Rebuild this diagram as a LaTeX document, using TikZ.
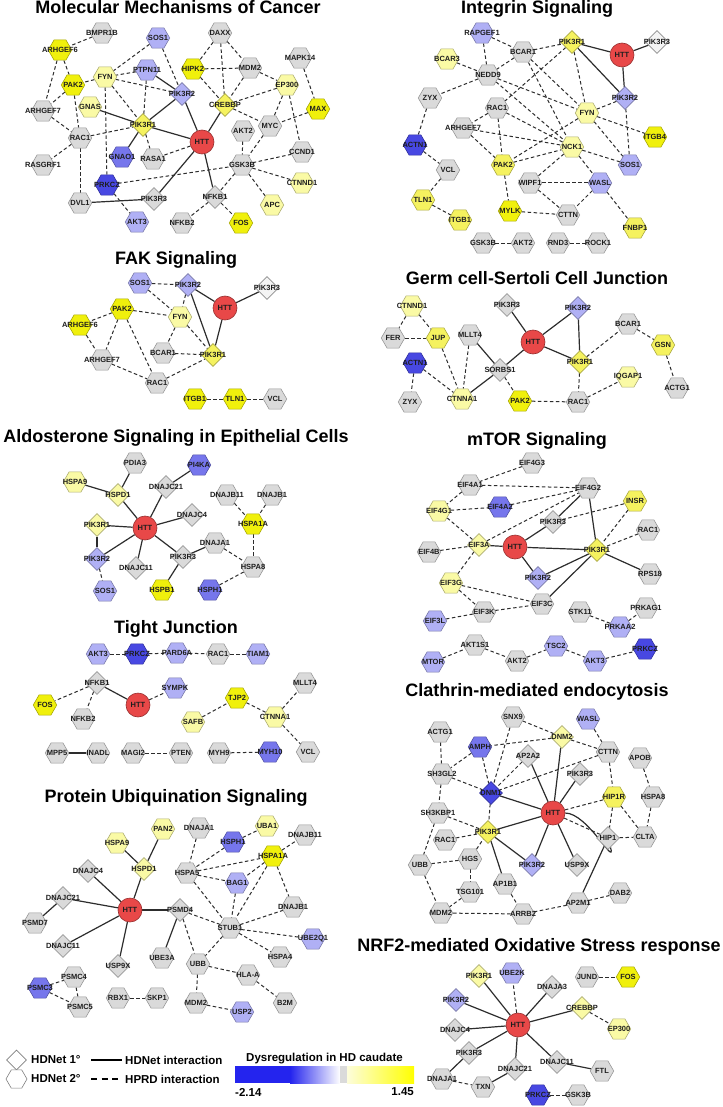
\documentclass[tikz,border=0pt]{standalone}
\usepackage{fontspec}
\setmainfont{Liberation Sans}
\usepackage{xcolor}
\usepackage{tikz}
\usetikzlibrary{shapes.geometric}
\usetikzlibrary{backgrounds}

\definecolor{hdGray}{RGB}{218,218,218}
\definecolor{hdWhite}{RGB}{244,244,244}
\definecolor{hdYa}{RGB}{250,250,165}
\definecolor{hdYb}{RGB}{245,242,95}
\definecolor{hdYc}{RGB}{240,240,12}
\definecolor{hdBa}{RGB}{176,176,245}
\definecolor{hdBb}{RGB}{118,118,236}
\definecolor{hdBc}{RGB}{72,72,226}
\definecolor{hdRed}{RGB}{232,72,72}
\definecolor{hdEdge}{RGB}{45,45,45}
\definecolor{hdText}{RGB}{30,30,30}
\definecolor{hdBar}{RGB}{36,36,238}
\definecolor{hdBarY}{RGB}{255,255,0}

\tikzset{
	hexn/.style={regular polygon, regular polygon sides=6, inner sep=0pt, minimum size=23.5pt, line width=0.6pt},
	dian/.style={diamond, inner sep=0pt, minimum width=23pt, minimum height=23pt, line width=0.6pt},
	httn/.style={circle, fill=hdRed, draw=hdRed!65!black, inner sep=0pt, minimum size=24pt, line width=0.6pt},
	cg/.style={fill=hdGray, draw=hdGray!70!black},
	cw/.style={fill=hdWhite, draw=hdGray!65!black},
	cya/.style={fill=hdYa, draw=hdYa!70!black},
	cyb/.style={fill=hdYb, draw=hdYb!70!black},
	cyc/.style={fill=hdYc, draw=hdYc!70!black},
	cba/.style={fill=hdBa, draw=hdBa!70!black},
	cbb/.style={fill=hdBb, draw=hdBb!70!black},
	cbc/.style={fill=hdBc, draw=hdBc!70!black},
	every label/.style={font=\fontsize{7.5}{8}\selectfont\bfseries, text=hdText, inner sep=0pt},
	hd/.style={draw=hdEdge, line width=1.2pt},
	hp/.style={draw=hdEdge, line width=1pt, dash pattern=on 3.5pt off 2.5pt},
	ttl/.style={font=\fontsize{18}{18}\selectfont\bfseries, anchor=base, inner sep=0pt},
	lgd/.style={font=\fontsize{11.5}{12}\selectfont\bfseries, inner sep=0pt}
}

\begin{document}
\begin{tikzpicture}[x=1pt,y=-1pt]
			\useasboundingbox (0,0) rectangle (722,1107);

			%% titles
			\node[ttl] (mcTitle) at (178,14) {Molecular Mechanisms of Cancer};
			\node[ttl] (igTitle) at (537,14) {Integrin Signaling};
			\node[ttl] (fkTitle) at (176,264) {FAK Signaling};
			\node[ttl] (gsTitle) at (537,284) {Germ cell-Sertoli Cell Junction};
			\node[ttl] (alTitle) at (176,442) {Aldosterone Signaling in Epithelial Cells};
			\node[ttl] (mtTitle) at (537,445) {mTOR Signaling};
			\node[ttl] (tjTitle) at (176,633) {Tight Junction};
			\node[ttl] (clTitle) at (537,696) {Clathrin-mediated endocytosis};
			\node[ttl] (puTitle) at (176,802) {Protein Ubiquination Signaling};
			\node[ttl] (nrTitle) at (539,951) {NRF2-mediated Oxidative Stress response};

			%% Molecular Mechanisms of Cancer
			\node[hexn,cg,label=center:BMPR1B] (mcBMPR1B) at (102,33) {};
			\node[hexn,cyc,label=center:ARHGEF6] (mcARHGEF6) at (60,50) {};
			\node[hexn,cba,label=center:SOS1] (mcSOS1) at (158,38) {};
			\node[hexn,cg,label=center:DAXX] (mcDAXX) at (220,33) {};
			\node[hexn,cg,label=center:MAPK14] (mcMAPK14) at (300,58) {};
			\node[hexn,cba,label=center:PTPN11] (mcPTPN11) at (147,70) {};
			\node[hexn,cya,label=center:FYN] (mcFYN) at (105,77) {};
			\node[hexn,cyc,label=center:HIPK2] (mcHIPK2) at (193,69) {};
			\node[hexn,cg,label=center:MDM2] (mcMDM2) at (250,68) {};
			\node[hexn,cya,label=center:EP300] (mcEP300) at (287,85) {};
			\node[hexn,cyc,label=center:PAK2] (mcPAK2) at (73,85) {};
			\node[dian,cba,label=center:PIK3R2] (mcPIK3R2) at (182,94) {};
			\node[dian,cyb,label=center:CREBBP] (mcCREBBP) at (225,105) {};
			\node[hexn,cyc,label=center:MAX] (mcMAX) at (318,109) {};
			\node[hexn,cya,label=center:GNAS] (mcGNAS) at (90,107) {};
			\node[hexn,cg,label=center:ARHGEF7] (mcARHGEF7) at (43,111) {};
			\node[dian,cyb,label=center:PIK3R1] (mcPIK3R1) at (143,125) {};
			\node[hexn,cg,label=center:MYC] (mcMYC) at (270,126) {};
			\node[hexn,cg,label=center:AKT2] (mcAKT2) at (243,131) {};
			\node[hexn,cg,label=center:RAC1] (mcRAC1) at (80,138) {};
			\node[httn,label=center:HTT] (mcHTT) at (202,142) {};
			\node[hexn,cg,label=center:CCND1] (mcCCND1) at (302,152) {};
			\node[hexn,cbb,label=center:GNAO1] (mcGNAO1) at (122,157) {};
			\node[hexn,cg,label=center:RASA1] (mcRASA1) at (153,159) {};
			\node[hexn,cg,label=center:RASGRF1] (mcRASGRF1) at (43,165) {};
			\node[hexn,cg,label=center:GSK3B] (mcGSK3B) at (242,165) {};
			\node[hexn,cya,label=center:CTNND1] (mcCTNND1) at (302,183) {};
			\node[hexn,cbc,label=center:PRKCZ] (mcPRKCZ) at (107,185) {};
			\node[dian,cg,label=center:PIK3R3] (mcPIK3R3) at (154,199) {};
			\node[dian,cg,label=center:NFKB1] (mcNFKB1) at (215,197) {};
			\node[hexn,cya,label=center:APC] (mcAPC) at (272,205) {};
			\node[hexn,cg,label=center:DVL1] (mcDVL1) at (80,203) {};
			\node[hexn,cba,label=center:AKT3] (mcAKT3) at (137,222) {};
			\node[hexn,cg,label=center:NFKB2] (mcNFKB2) at (182,223) {};
			\node[hexn,cyc,label=center:FOS] (mcFOS) at (241,223) {};

			%% Integrin Signaling
			\node[hexn,cba,label=center:RAPGEF1] (igRAPGEF1) at (482,33) {};
			\node[hexn,cg,label=center:BCAR1] (igBCAR1) at (523,52) {};
			\node[dian,cyb,label=center:PIK3R1] (igPIK3R1) at (572,42) {};
			\node[httn,label=center:HTT] (igHTT) at (622,55) {};
			\node[dian,cw,label=center:PIK3R3] (igPIK3R3) at (657,42) {};
			\node[hexn,cya,label=center:BCAR3] (igBCAR3) at (447,59) {};
			\node[hexn,cg,label=center:NEDD9] (igNEDD9) at (488,75) {};
			\node[hexn,cg,label=center:ZYX] (igZYX) at (430,98) {};
			\node[dian,cba,label=center:PIK3R2] (igPIK3R2) at (625,98) {};
			\node[hexn,cg,label=center:RAC1] (igRAC1) at (497,108) {};
			\node[hexn,cya,label=center:FYN] (igFYN) at (587,113) {};
			\node[hexn,cg,label=center:ARHGEF7] (igARHGEF7) at (463,128) {};
			\node[hexn,cyc,label=center:ITGB4] (igITGB4) at (655,137) {};
			\node[hexn,cbc,label=center:ACTN1] (igACTN1) at (415,145) {};
			\node[hexn,cya,label=center:NCK1] (igNCK1) at (572,147) {};
			\node[hexn,cyb,label=center:PAK2] (igPAK2) at (503,165) {};
			\node[hexn,cba,label=center:SOS1] (igSOS1) at (630,165) {};
			\node[hexn,cg,label=center:VCL] (igVCL) at (448,170) {};
			\node[hexn,cg,label=center:WIPF1] (igWIPF1) at (530,183) {};
			\node[hexn,cba,label=center:WASL] (igWASL) at (600,183) {};
			\node[hexn,cyb,label=center:TLN1] (igTLN1) at (423,200) {};
			\node[hexn,cyc,label=center:MYLK] (igMYLK) at (510,211) {};
			\node[hexn,cg,label=center:CTTN] (igCTTN) at (568,215) {};
			\node[hexn,cyb,label=center:ITGB1] (igITGB1) at (460,220) {};
			\node[hexn,cyb,label=center:FNBP1] (igFNBP1) at (635,228) {};
			\node[hexn,cg,label=center:GSK3B] (igGSK3B) at (483,243) {};
			\node[hexn,cg,label=center:AKT2] (igAKT2) at (523,243) {};
			\node[hexn,cg,label=center:RND3] (igRND3) at (558,243) {};
			\node[hexn,cg,label=center:ROCK1] (igROCK1) at (598,243) {};

			%% FAK Signaling
			\node[hexn,cba,label=center:SOS1] (fkSOS1) at (140,283) {};
			\node[dian,cba,label=center:PIK3R2] (fkPIK3R2) at (188,285) {};
			\node[dian,cw,label=center:PIK3R3] (fkPIK3R3) at (267,288) {};
			\node[httn,label=center:HTT] (fkHTT) at (225,308) {};
			\node[hexn,cyc,label=center:PAK2] (fkPAK2) at (122,309) {};
			\node[hexn,cya,label=center:FYN] (fkFYN) at (180,317) {};
			\node[hexn,cyc,label=center:ARHGEF6] (fkARHGEF6) at (80,325) {};
			\node[hexn,cg,label=center:BCAR1] (fkBCAR1) at (163,353) {};
			\node[dian,cyb,label=center:PIK3R1] (fkPIK3R1) at (213,355) {};
			\node[hexn,cg,label=center:ARHGEF7] (fkARHGEF7) at (102,360) {};
			\node[hexn,cg,label=center:RAC1] (fkRAC1) at (157,383) {};
			\node[hexn,cyc,label=center:ITGB1] (fkITGB1) at (195,399) {};
			\node[hexn,cyc,label=center:TLN1] (fkTLN1) at (235,399) {};
			\node[hexn,cg,label=center:VCL] (fkVCL) at (275,399) {};

			%% Germ cell-Sertoli Cell Junction
			\node[hexn,cya,label=center:CTNND1] (gsCTNND1) at (412,306) {};
			\node[dian,cg,label=center:PIK3R3] (gsPIK3R3) at (507,305) {};
			\node[dian,cba,label=center:PIK3R2] (gsPIK3R2) at (578,308) {};
			\node[hexn,cg,label=center:BCAR1] (gsBCAR1) at (628,324) {};
			\node[hexn,cg,label=center:FER] (gsFER) at (393,338) {};
			\node[hexn,cyb,label=center:JUP] (gsJUP) at (438,338) {};
			\node[hexn,cg,label=center:MLLT4] (gsMLLT4) at (470,335) {};
			\node[httn,label=center:HTT] (gsHTT) at (533,342) {};
			\node[hexn,cyb,label=center:GSN] (gsGSN) at (663,345) {};
			\node[hexn,cbc,label=center:ACTN1] (gsACTN1) at (415,363) {};
			\node[dian,cg,label=center:SORBS1] (gsSORBS1) at (500,370) {};
			\node[dian,cyb,label=center:PIK3R1] (gsPIK3R1) at (580,362) {};
			\node[hexn,cya,label=center:IQGAP1] (gsIQGAP1) at (628,377) {};
			\node[hexn,cg,label=center:ACTG1] (gsACTG1) at (677,388) {};
			\node[hexn,cg,label=center:ZYX] (gsZYX) at (410,402) {};
			\node[hexn,cya,label=center:CTNNA1] (gsCTNNA1) at (462,399) {};
			\node[hexn,cyc,label=center:PAK2] (gsPAK2) at (520,401) {};
			\node[hexn,cg,label=center:RAC1] (gsRAC1) at (578,402) {};

			%% Aldosterone Signaling in Epithelial Cells
			\node[hexn,cg,label=center:PDIA3] (alPDIA3) at (135,463) {};
			\node[hexn,cbb,label=center:PI4KA] (alPI4KA) at (199,465) {};
			\node[hexn,cya,label=center:HSPA9] (alHSPA9) at (75,482) {};
			\node[dian,cya,label=center:HSPD1] (alHSPD1) at (118,495) {};
			\node[dian,cg,label=center:DNAJC21] (alDNAJC21) at (166,487) {};
			\node[hexn,cg,label=center:DNAJB11] (alDNAJB11) at (227,495) {};
			\node[hexn,cg,label=center:DNAJB1] (alDNAJB1) at (272,495) {};
			\node[dian,cg,label=center:DNAJC4] (alDNAJC4) at (192,515) {};
			\node[dian,cya,label=center:PIK3R1] (alPIK3R1) at (97,525) {};
			\node[httn,label=center:HTT] (alHTT) at (145,528) {};
			\node[hexn,cyc,label=center:HSPA1A] (alHSPA1A) at (253,524) {};
			\node[hexn,cg,label=center:DNAJA1] (alDNAJA1) at (215,543) {};
			\node[dian,cba,label=center:PIK3R2] (alPIK3R2) at (97,559) {};
			\node[dian,cg,label=center:PIK3R3] (alPIK3R3) at (183,557) {};
			\node[hexn,cg,label=center:HSPA8] (alHSPA8) at (253,567) {};
			\node[dian,cg,label=center:DNAJC11] (alDNAJC11) at (136,568) {};
			\node[hexn,cba,label=center:SOS1] (alSOS1) at (105,591) {};
			\node[hexn,cyc,label=center:HSPB1] (alHSPB1) at (162,590) {};
			\node[hexn,cbb,label=center:HSPH1] (alHSPH1) at (210,590) {};

			%% Tight Junction
			\node[hexn,cba,label=center:AKT3] (tjAKT3) at (98,654) {};
			\node[hexn,cbc,label=center:PRKCZ] (tjPRKCZ) at (137,654) {};
			\node[hexn,cba,label=center:PARD6A] (tjPARD6A) at (177,653) {};
			\node[hexn,cg,label=center:RAC1] (tjRAC1) at (218,654) {};
			\node[hexn,cba,label=center:TIAM1] (tjTIAM1) at (258,654) {};
			\node[dian,cg,label=center:NFKB1] (tjNFKB1) at (97,683) {};
			\node[hexn,cba,label=center:SYMPK] (tjSYMPK) at (175,688) {};
			\node[hexn,cg,label=center:MLLT4] (tjMLLT4) at (305,683) {};
			\node[hexn,cyc,label=center:FOS] (tjFOS) at (45,705) {};
			\node[httn,label=center:HTT] (tjHTT) at (138,705) {};
			\node[hexn,cyc,label=center:TJP2] (tjTJP2) at (237,698) {};
			\node[hexn,cg,label=center:NFKB2] (tjNFKB2) at (83,719) {};
			\node[hexn,cya,label=center:SAFB] (tjSAFB) at (193,722) {};
			\node[hexn,cya,label=center:CTNNA1] (tjCTNNA1) at (275,717) {};
			\node[hexn,cg,label=center:MPP5] (tjMPP5) at (57,753) {};
			\node[hexn,cg,label=center:INADL] (tjINADL) at (98,753) {};
			\node[hexn,cg,label=center:MAGI2] (tjMAGI2) at (133,753) {};
			\node[hexn,cg,label=center:PTEN] (tjPTEN) at (181,753) {};
			\node[hexn,cg,label=center:MYH9] (tjMYH9) at (219,753) {};
			\node[hexn,cbb,label=center:MYH10] (tjMYH10) at (270,752) {};
			\node[hexn,cg,label=center:VCL] (tjVCL) at (308,752) {};

			%% Protein Ubiquination Signaling
			\node[hexn,cya,label=center:PAN2] (puPAN2) at (163,829) {};
			\node[hexn,cg,label=center:DNAJA1] (puDNAJA1) at (199,828) {};
			\node[hexn,cya,label=center:UBA1] (puUBA1) at (267,826) {};
			\node[hexn,cya,label=center:HSPA9] (puHSPA9) at (117,843) {};
			\node[hexn,cbb,label=center:HSPH1] (puHSPH1) at (233,842) {};
			\node[hexn,cg,label=center:DNAJB11] (puDNAJB11) at (305,835) {};
			\node[hexn,cyc,label=center:HSPA1A] (puHSPA1A) at (273,856) {};
			\node[dian,cg,label=center:DNAJC4] (puDNAJC4) at (88,871) {};
			\node[dian,cya,label=center:HSPD1] (puHSPD1) at (144,869) {};
			\node[hexn,cg,label=center:HSPA5] (puHSPA5) at (187,873) {};
			\node[hexn,cba,label=center:BAG1] (puBAG1) at (237,883) {};
			\node[dian,cg,label=center:DNAJC21] (puDNAJC21) at (63,898) {};
			\node[httn,label=center:HTT] (puHTT) at (130,910) {};
			\node[dian,cg,label=center:PSMD4] (puPSMD4) at (180,910) {};
			\node[hexn,cg,label=center:DNAJB1] (puDNAJB1) at (293,907) {};
			\node[hexn,cg,label=center:PSMD7] (puPSMD7) at (35,923) {};
			\node[hexn,cg,label=center:STUB1] (puSTUB1) at (230,928) {};
			\node[hexn,cba,label=center:UBE2Q1] (puUBE2Q1) at (313,939) {};
			\node[dian,cg,label=center:DNAJC11] (puDNAJC11) at (63,946) {};
			\node[hexn,cg,label=center:HSPA4] (puHSPA4) at (280,957) {};
			\node[hexn,cg,label=center:UBE3A] (puUBE3A) at (162,958) {};
			\node[dian,cg,label=center:USP9X] (puUSP9X) at (118,966) {};
			\node[hexn,cg,label=center:UBB] (puUBB) at (198,964) {};
			\node[hexn,cg,label=center:HLA-A] (puHLAA) at (248,975) {};
			\node[hexn,cg,label=center:PSMC4] (puPSMC4) at (74,977) {};
			\node[hexn,cbb,label=center:PSMC3] (puPSMC3) at (40,988) {};
			\node[hexn,cg,label=center:RBX1] (puRBX1) at (118,998) {};
			\node[hexn,cg,label=center:SKP1] (puSKP1) at (157,998) {};
			\node[hexn,cg,label=center:MDM2] (puMDM2) at (196,1003) {};
			\node[hexn,cg,label=center:B2M] (puB2M) at (285,1003) {};
			\node[hexn,cg,label=center:PSMC5] (puPSMC5) at (80,1007) {};
			\node[hexn,cba,label=center:USP2] (puUSP2) at (242,1012) {};

			%% mTOR Signaling
			\node[hexn,cg,label=center:EIF4G3] (mtEIF4G3) at (532,463) {};
			\node[hexn,cg,label=center:EIF4A1] (mtEIF4A1) at (470,485) {};
			\node[hexn,cg,label=center:EIF4G2] (mtEIF4G2) at (588,488) {};
			\node[hexn,cyb,label=center:INSR] (mtINSR) at (635,501) {};
			\node[hexn,cya,label=center:EIF4G1] (mtEIF4G1) at (439,511) {};
			\node[hexn,cbb,label=center:EIF4A2] (mtEIF4A2) at (500,507) {};
			\node[dian,cg,label=center:PIK3R3] (mtPIK3R3) at (553,522) {};
			\node[hexn,cg,label=center:RAC1] (mtRAC1) at (648,530) {};
			\node[hexn,cg,label=center:EIF4B] (mtEIF4B) at (429,552) {};
			\node[dian,cya,label=center:EIF3A] (mtEIF3A) at (479,545) {};
			\node[httn,label=center:HTT] (mtHTT) at (515,547) {};
			\node[dian,cyb,label=center:PIK3R1] (mtPIK3R1) at (597,550) {};
			\node[hexn,cg,label=center:RPS18] (mtRPS18) at (650,574) {};
			\node[dian,cba,label=center:PIK3R2] (mtPIK3R2) at (538,578) {};
			\node[hexn,cya,label=center:EIF3G] (mtEIF3G) at (451,583) {};
			\node[hexn,cg,label=center:EIF3C] (mtEIF3C) at (542,604) {};
			\node[hexn,cg,label=center:STK11] (mtSTK11) at (580,612) {};
			\node[hexn,cg,label=center:PRKAG1] (mtPRKAG1) at (646,608) {};
			\node[hexn,cg,label=center:EIF3K] (mtEIF3K) at (484,612) {};
			\node[hexn,cba,label=center:EIF3L] (mtEIF3L) at (435,621) {};
			\node[hexn,cba,label=center:PRKAA2] (mtPRKAA2) at (620,627) {};
			\node[hexn,cg,label=center:AKT1S1] (mtAKT1S1) at (475,645) {};
			\node[hexn,cba,label=center:TSC2] (mtTSC2) at (556,646) {};
			\node[hexn,cbc,label=center:PRKCZ] (mtPRKCZ) at (645,649) {};
			\node[hexn,cba,label=center:MTOR] (mtMTOR) at (433,662) {};
			\node[hexn,cg,label=center:AKT2] (mtAKT2) at (517,661) {};
			\node[hexn,cba,label=center:AKT3] (mtAKT3) at (595,661) {};

			%% Clathrin-mediated endocytosis
			\node[hexn,cg,label=center:SNX9] (clSNX9) at (513,717) {};
			\node[hexn,cba,label=center:WASL] (clWASL) at (588,719) {};
			\node[hexn,cg,label=center:ACTG1] (clACTG1) at (440,732) {};
			\node[dian,cya,label=center:DNM2] (clDNM2) at (562,737) {};
			\node[hexn,cbb,label=center:AMPH] (clAMPH) at (480,747) {};
			\node[dian,cg,label=center:AP2A2] (clAP2A2) at (528,756) {};
			\node[hexn,cg,label=center:CTTN] (clCTTN) at (608,752) {};
			\node[hexn,cg,label=center:APOB] (clAPOB) at (640,758) {};
			\node[dian,cg,label=center:PIK3R3] (clPIK3R3) at (580,774) {};
			\node[hexn,cg,label=center:SH3GL2] (clSH3GL2) at (442,774) {};
			\node[dian,cbc,label=center:DNM1] (clDNM1) at (491,793) {};
			\node[hexn,cyb,label=center:HIP1R] (clHIP1R) at (614,797) {};
			\node[hexn,cg,label=center:HSPA8] (clHSPA8) at (653,797) {};
			\node[httn,label=center:HTT] (clHTT) at (553,813) {};
			\node[hexn,cg,label=center:SH3KBP1] (clSH3KBP1) at (438,813) {};
			\node[dian,cyb,label=center:PIK3R1] (clPIK3R1) at (488,832) {};
			\node[hexn,cg,label=center:RAC1] (clRAC1) at (445,840) {};
			\node[dian,cg,label=center:HIP1] (clHIP1) at (608,838) {};
			\node[hexn,cg,label=center:CLTA] (clCLTA) at (645,837) {};
			\node[hexn,cg,label=center:UBB] (clUBB) at (420,865) {};
			\node[hexn,cg,label=center:HGS] (clHGS) at (470,859) {};
			\node[dian,cba,label=center:PIK3R2] (clPIK3R2) at (532,865) {};
			\node[dian,cg,label=center:USP9X] (clUSP9X) at (577,865) {};
			\node[hexn,cg,label=center:AP1B1] (clAP1B1) at (505,884) {};
			\node[hexn,cg,label=center:TSG101] (clTSG101) at (470,892) {};
			\node[hexn,cg,label=center:DAB2] (clDAB2) at (620,893) {};
			\node[hexn,cg,label=center:AP2M1] (clAP2M1) at (578,903) {};
			\node[hexn,cg,label=center:MDM2] (clMDM2) at (441,913) {};
			\node[hexn,cg,label=center:ARRB2] (clARRB2) at (523,914) {};

			%% NRF2-mediated Oxidative Stress response
			\node[dian,cya,label=center:PIK3R1] (nrPIK3R1) at (479,976) {};
			\node[hexn,cba,label=center:UBE2K] (nrUBE2K) at (512,973) {};
			\node[hexn,cg,label=center:JUND] (nrJUND) at (587,977) {};
			\node[hexn,cyc,label=center:FOS] (nrFOS) at (628,977) {};
			\node[dian,cg,label=center:DNAJA3] (nrDNAJA3) at (552,987) {};
			\node[dian,cba,label=center:PIK3R2] (nrPIK3R2) at (456,1000) {};
			\node[dian,cya,label=center:CREBBP] (nrCREBBP) at (582,1008) {};
			\node[httn,label=center:HTT] (nrHTT) at (518,1025) {};
			\node[dian,cg,label=center:DNAJC4] (nrDNAJC4) at (455,1030) {};
			\node[hexn,cya,label=center:EP300] (nrEP300) at (619,1029) {};
			\node[dian,cg,label=center:PIK3R3] (nrPIK3R3) at (469,1053) {};
			\node[dian,cg,label=center:DNAJC11] (nrDNAJC11) at (557,1062) {};
			\node[dian,cg,label=center:DNAJC21] (nrDNAJC21) at (515,1069) {};
			\node[hexn,cg,label=center:FTL] (nrFTL) at (602,1071) {};
			\node[hexn,cg,label=center:DNAJA1] (nrDNAJA1) at (442,1079) {};
			\node[hexn,cg,label=center:TXN] (nrTXN) at (483,1087) {};
			\node[hexn,cbc,label=center:PRKCZ] (nrPRKCZ) at (538,1095) {};
			\node[hexn,cg,label=center:GSK3B] (nrGSK3B) at (578,1095) {};

			%% legend
			\node[dian,fill=white,draw=gray,minimum width=20pt,minimum height=20pt] (lgDia) at (16.5,1060) {};
			\node[hexn,fill=white,draw=gray,minimum size=21pt] (lgHex) at (16.5,1079) {};
			\node[lgd,anchor=west] (lgOne) at (31,1060) {HDNet 1°};
			\node[lgd,anchor=west] (lgTwo) at (31,1079) {HDNet 2°};
			\coordinate (lgSa) at (91,1060);
			\coordinate (lgSb) at (122,1060);
			\coordinate (lgDa) at (91,1079);
			\coordinate (lgDb) at (122,1079);
			\node[lgd,anchor=west] (lgHDi) at (125,1060) {HDNet interaction};
			\node[lgd,anchor=west] (lgHPi) at (125,1079) {HPRD interaction};
			\node[lgd,anchor=west] (lgDys) at (246,1059) {Dysregulation in HD caudate};
			\node[lgd,anchor=west] (lgMin) at (235,1092) {-2.14};
			\node[lgd,anchor=east] (lgMax) at (414,1092) {1.45};
			\fill[hdBar] (235,1066) rectangle (290,1083);
			\shade[left color=hdBar, right color=white] (290,1066) rectangle (340,1083);
			\fill[hdGray] (340,1066) rectangle (347,1083);
			\shade[left color=hdYa!40!white, right color=hdBarY] (347,1066) rectangle (414,1083);
			\draw[line width=1.2pt] (lgSa) -- (lgSb);
			\draw[line width=1.2pt, dash pattern=on 6pt off 4.5pt] (lgDa) -- (lgDb);

			\begin{scope}[on background layer]
			\fill[white] (0,0) rectangle (722,1107);

			%% lines: Molecular Mechanisms of Cancer
			\draw[hd] (mcHTT) -- (mcPIK3R1);
			\draw[hd] (mcHTT) -- (mcPIK3R2);
			\draw[hd] (mcHTT) -- (mcCREBBP);
			\draw[hd] (mcHTT) -- (mcNFKB1);
			\draw[hd] (mcHTT) -- (mcPIK3R3);
			\draw[hd] (mcPIK3R1) -- (mcPIK3R2);
			\draw[hd] (mcPIK3R1) -- (mcGNAS);
			\draw[hd] (mcPIK3R1) -- (mcGNAO1);
			\draw[hd] (mcPTPN11) -- (mcPIK3R2);
			\draw[hd] (mcPIK3R3) -- (mcDVL1);
			\draw[hp] (mcBMPR1B) -- (mcARHGEF6);
			\draw[hp] (mcARHGEF6) -- (mcPAK2);
			\draw[hp] (mcARHGEF6) -- (mcARHGEF7);
			\draw[hp] (mcSOS1) -- (mcFYN);
			\draw[hp] (mcSOS1) -- (mcPIK3R2);
			\draw[hp] (mcPTPN11) -- (mcFYN);
			\draw[hp] (mcPTPN11) -- (mcPIK3R1);
			\draw[hp] (mcFYN) -- (mcPIK3R2);
			\draw[hp] (mcFYN) -- (mcPAK2);
			\draw[hp] (mcFYN) -- (mcPIK3R1);
			\draw[hp] (mcFYN) -- (mcPRKCZ);
			\draw[hp] (mcPAK2) -- (mcARHGEF7);
			\draw[hp] (mcPAK2) -- (mcRAC1);
			\draw[hp] (mcARHGEF7) -- (mcRAC1);
			\draw[hp] (mcRAC1) -- (mcPIK3R1);
			\draw[hp] (mcRAC1) -- (mcRASGRF1);
			\draw[hp] (mcRAC1) -- (mcDVL1);
			\draw[hp] (mcPIK3R1) -- (mcRASA1);
			\draw[hp] (mcHTT) -- (mcRASA1);
			\draw[hp] (mcDAXX) -- (mcHIPK2);
			\draw[hp] (mcDAXX) -- (mcMDM2);
			\draw[hp] (mcDAXX) -- (mcCREBBP);
			\draw[hp] (mcHIPK2) -- (mcMDM2);
			\draw[hp] (mcHIPK2) -- (mcCREBBP);
			\draw[hp] (mcMDM2) -- (mcCREBBP);
			\draw[hp] (mcMDM2) -- (mcEP300);
			\draw[hp] (mcEP300) -- (mcCREBBP);
			\draw[hp] (mcEP300) -- (mcMYC);
			\draw[hp] (mcEP300) -- (mcCCND1);
			\draw[hp] (mcMAPK14) -- (mcMAX);
			\draw[hp] (mcMAX) -- (mcMYC);
			\draw[hp] (mcCREBBP) -- (mcMYC);
			\draw[hp] (mcMYC) -- (mcGSK3B);
			\draw[hp] (mcAKT2) -- (mcGSK3B);
			\draw[hp] (mcGSK3B) -- (mcCCND1);
			\draw[hp] (mcGSK3B) -- (mcCTNND1);
			\draw[hp] (mcGSK3B) -- (mcAPC);
			\draw[hp] (mcGSK3B) -- (mcNFKB1);
			\draw[hp] (mcPRKCZ) -- (mcGSK3B);
			\draw[hp] (mcPRKCZ) -- (mcAKT3);
			\draw[hp] (mcNFKB1) -- (mcNFKB2);
			\draw[hp] (mcNFKB1) -- (mcFOS);

			%% lines: Integrin Signaling
			\draw[hd] (igPIK3R1) -- (igHTT);
			\draw[hd] (igHTT) -- (igPIK3R3);
			\draw[hd] (igHTT) -- (igPIK3R2);
			\draw[hd] (igPIK3R1) -- (igPIK3R2);
			\draw[hp] (igRAPGEF1) -- (igBCAR1);
			\draw[hp] (igRAPGEF1) -- (igNEDD9);
			\draw[hp] (igBCAR1) -- (igPIK3R1);
			\draw[hp] (igBCAR1) -- (igNEDD9);
			\draw[hp] (igBCAR3) -- (igNEDD9);
			\draw[hp] (igNEDD9) -- (igZYX);
			\draw[hp] (igNEDD9) -- (igFYN);
			\draw[hp] (igNEDD9) -- (igNCK1);
			\draw[hp] (igBCAR1) -- (igFYN);
			\draw[hp] (igBCAR1) -- (igNCK1);
			\draw[hp] (igPIK3R1) -- (igRAC1);
			\draw[hp] (igPIK3R1) -- (igFYN);
			\draw[hp] (igPIK3R2) -- (igFYN);
			\draw[hp] (igPIK3R2) -- (igSOS1);
			\draw[hp] (igFYN) -- (igITGB4);
			\draw[hp] (igFYN) -- (igPAK2);
			\draw[hp] (igFYN) -- (igSOS1);
			\draw[hp] (igZYX) -- (igACTN1);
			\draw[hp] (igRAC1) -- (igARHGEF7);
			\draw[hp] (igRAC1) -- (igPAK2);
			\draw[hp] (igRAC1) -- (igNCK1);
			\draw[hp] (igARHGEF7) -- (igNCK1);
			\draw[hp] (igARHGEF7) -- (igPAK2);
			\draw[hp] (igPAK2) -- (igNCK1);
			\draw[hp] (igPAK2) -- (igMYLK);
			\draw[hp] (igNCK1) -- (igSOS1);
			\draw[hp] (igNCK1) -- (igWIPF1);
			\draw[hp] (igNCK1) -- (igWASL);
			\draw[hp] (igWIPF1) -- (igWASL);
			\draw[hp] (igWIPF1) -- (igCTTN);
			\draw[hp] (igWASL) -- (igCTTN);
			\draw[hp] (igWASL) -- (igFNBP1);
			\draw[hp] (igMYLK) -- (igCTTN);
			\draw[hp] (igACTN1) -- (igVCL);
			\draw[hp] (igVCL) -- (igTLN1);
			\draw[hp] (igTLN1) -- (igITGB1);
			\draw[hp] (igGSK3B) -- (igAKT2);
			\draw[hp] (igRND3) -- (igROCK1);

			%% lines: FAK Signaling
			\draw[hd] (fkPIK3R2) -- (fkHTT);
			\draw[hd] (fkHTT) -- (fkPIK3R3);
			\draw[hd] (fkHTT) -- (fkPIK3R1);
			\draw[hd] (fkPIK3R2) -- (fkPIK3R1);
			\draw[hp] (fkSOS1) -- (fkPIK3R2);
			\draw[hp] (fkSOS1) -- (fkFYN);
			\draw[hp] (fkPIK3R2) -- (fkFYN);
			\draw[hp] (fkPAK2) -- (fkFYN);
			\draw[hp] (fkPAK2) -- (fkARHGEF6);
			\draw[hp] (fkPAK2) -- (fkARHGEF7);
			\draw[hp] (fkPAK2) -- (fkRAC1);
			\draw[hp] (fkARHGEF6) -- (fkARHGEF7);
			\draw[hp] (fkFYN) -- (fkBCAR1);
			\draw[hp] (fkFYN) -- (fkPIK3R1);
			\draw[hp] (fkBCAR1) -- (fkPIK3R1);
			\draw[hp] (fkARHGEF7) -- (fkRAC1);
			\draw[hp] (fkRAC1) -- (fkPIK3R1);
			\draw[hp] (fkITGB1) -- (fkTLN1);
			\draw[hp] (fkTLN1) -- (fkVCL);

			%% lines: Germ cell-Sertoli Cell Junction
			\draw[hd] (gsPIK3R3) -- (gsHTT);
			\draw[hd] (gsHTT) -- (gsPIK3R2);
			\draw[hd] (gsHTT) -- (gsPIK3R1);
			\draw[hd] (gsPIK3R2) -- (gsPIK3R1);
			\draw[hd] (gsHTT) -- (gsSORBS1);
			\draw[hd] (gsMLLT4) -- (gsSORBS1);
			\draw[hd] (gsSORBS1) -- (gsCTNNA1);
			\draw[hp] (gsCTNND1) -- (gsFER);
			\draw[hp] (gsCTNND1) -- (gsJUP);
			\draw[hp] (gsFER) -- (gsJUP);
			\draw[hp] (gsJUP) -- (gsCTNNA1);
			\draw[hp] (gsMLLT4) -- (gsCTNNA1);
			\draw[hp] (gsACTN1) -- (gsCTNNA1);
			\draw[hp] (gsACTN1) -- (gsZYX);
			\draw[hp] (gsSORBS1) -- (gsPAK2);
			\draw[hp] (gsPAK2) -- (gsRAC1);
			\draw[hp] (gsPIK3R1) -- (gsRAC1);
			\draw[hp] (gsPIK3R1) -- (gsBCAR1);
			\draw[hp] (gsBCAR1) -- (gsGSN);
			\draw[hp] (gsGSN) -- (gsACTG1);
			\draw[hp] (gsRAC1) -- (gsIQGAP1);

			%% lines: Aldosterone Signaling in Epithelial Cells
			\draw[hd] (alHTT) -- (alHSPD1);
			\draw[hd] (alHTT) -- (alDNAJC21);
			\draw[hd] (alHTT) -- (alDNAJC4);
			\draw[hd] (alHTT) -- (alPIK3R1);
			\draw[hd] (alHTT) -- (alPIK3R2);
			\draw[hd] (alHTT) -- (alDNAJC11);
			\draw[hd] (alHTT) -- (alPIK3R3);
			\draw[hd] (alHSPD1) -- (alPDIA3);
			\draw[hd] (alHSPD1) -- (alHSPA9);
			\draw[hd] (alDNAJC21) -- (alPI4KA);
			\draw[hd] (alPIK3R1) -- (alPIK3R2);
			\draw[hd] (alPIK3R3) -- (alHSPB1);
			\draw[hd] (alPIK3R3) -- (alDNAJA1);
			\draw[hp] (alDNAJB11) -- (alHSPA1A);
			\draw[hp] (alDNAJB1) -- (alHSPA1A);
			\draw[hp] (alHSPA1A) -- (alHSPA8);
			\draw[hp] (alDNAJA1) -- (alHSPA8);
			\draw[hp] (alHSPA8) -- (alHSPH1);
			\draw[hp] (alPIK3R2) -- (alSOS1);

			%% lines: Tight Junction
			\draw[hd] (tjNFKB1) -- (tjHTT);
			\draw[hd] (tjMPP5) -- (tjINADL);
			\draw[hp] (tjAKT3) -- (tjPRKCZ);
			\draw[hp] (tjPRKCZ) -- (tjPARD6A);
			\draw[hp] (tjPARD6A) -- (tjRAC1);
			\draw[hp] (tjRAC1) -- (tjTIAM1);
			\draw[hp] (tjNFKB1) -- (tjFOS);
			\draw[hp] (tjNFKB1) -- (tjNFKB2);
			\draw[hp] (tjHTT) -- (tjSYMPK);
			\draw[hp] (tjSAFB) -- (tjTJP2);
			\draw[hp] (tjTJP2) -- (tjCTNNA1);
			\draw[hp] (tjCTNNA1) -- (tjMLLT4);
			\draw[hp] (tjCTNNA1) -- (tjVCL);
			\draw[hp] (tjMAGI2) -- (tjPTEN);
			\draw[hp] (tjMYH9) -- (tjMYH10);

			%% lines: Protein Ubiquination Signaling
			\draw[hd] (puHTT) -- (puHSPD1);
			\draw[hd] (puHSPD1) -- (puHSPA9);
			\draw[hd] (puHSPD1) -- (puPAN2);
			\draw[hd] (puHTT) -- (puDNAJC4);
			\draw[hd] (puHTT) -- (puDNAJC21);
			\draw[hd] (puHTT) -- (puDNAJC11);
			\draw[hd] (puHTT) -- (puUSP9X);
			\draw[hd] (puHTT) -- (puPSMD4);
			\draw[hd] (puDNAJC21) -- (puPSMD7);
			\draw[hd] (puPSMD4) -- (puUBE3A);
			\draw[hp] (puDNAJA1) -- (puHSPA5);
			\draw[hp] (puHSPH1) -- (puUBA1);
			\draw[hp] (puHSPH1) -- (puHSPA5);
			\draw[hp] (puHSPA5) -- (puHSPA1A);
			\draw[hp] (puHSPA5) -- (puBAG1);
			\draw[hp] (puHSPA5) -- (puSTUB1);
			\draw[hp] (puHSPA1A) -- (puDNAJB11);
			\draw[hp] (puHSPA1A) -- (puBAG1);
			\draw[hp] (puHSPA1A) -- (puSTUB1);
			\draw[hp] (puHSPA1A) -- (puDNAJB1);
			\draw[hp] (puBAG1) -- (puSTUB1);
			\draw[hp] (puPSMD4) -- (puSTUB1);
			\draw[hp] (puPSMD4) -- (puUBB);
			\draw[hp] (puSTUB1) -- (puDNAJB1);
			\draw[hp] (puSTUB1) -- (puUBE2Q1);
			\draw[hp] (puSTUB1) -- (puHSPA4);
			\draw[hp] (puSTUB1) -- (puUBB);
			\draw[hp] (puUBB) -- (puHLAA);
			\draw[hp] (puHLAA) -- (puB2M);
			\draw[hp] (puUBB) -- (puMDM2);
			\draw[hp] (puMDM2) -- (puUSP2);
			\draw[hp] (puPSMC3) -- (puPSMC4);
			\draw[hp] (puPSMC3) -- (puPSMC5);
			\draw[hp] (puPSMC4) -- (puPSMC5);
			\draw[hp] (puRBX1) -- (puSKP1);

			%% lines: mTOR Signaling
			\draw[hd] (mtHTT) -- (mtEIF3A);
			\draw[hd] (mtHTT) -- (mtPIK3R1);
			\draw[hd] (mtHTT) -- (mtPIK3R3);
			\draw[hd] (mtHTT) -- (mtPIK3R2);
			\draw[hd] (mtPIK3R3) -- (mtEIF4G2);
			\draw[hd] (mtEIF4G2) -- (mtPIK3R1);
			\draw[hd] (mtPIK3R1) -- (mtPIK3R2);
			\draw[hd] (mtPIK3R1) -- (mtRPS18);
			\draw[hd] (mtPIK3R1) -- (mtEIF3C);
			\draw[hp] (mtEIF4G3) -- (mtEIF4A1);
			\draw[hp] (mtEIF4A1) -- (mtEIF4G2);
			\draw[hp] (mtEIF4A1) -- (mtEIF4G1);
			\draw[hp] (mtEIF4G1) -- (mtEIF4A2);
			\draw[hp] (mtEIF4A2) -- (mtEIF4G2);
			\draw[hp] (mtEIF4G1) -- (mtEIF3A);
			\draw[hp] (mtEIF4B) -- (mtEIF3A);
			\draw[hp] (mtEIF3A) -- (mtEIF4G2);
			\draw[hp] (mtEIF3A) -- (mtEIF3G);
			\draw[hp] (mtEIF3G) -- (mtEIF3K);
			\draw[hp] (mtEIF3G) -- (mtEIF3C);
			\draw[hp] (mtEIF3K) -- (mtEIF3C);
			\draw[hp] (mtEIF3L) -- (mtEIF3K);
			\draw[hp] (mtPIK3R3) -- (mtINSR);
			\draw[hp] (mtINSR) -- (mtPIK3R1);
			\draw[hp] (mtRAC1) -- (mtPIK3R1);
			\draw[hp] (mtSTK11) -- (mtPRKAA2);
			\draw[hp] (mtPRKAA2) -- (mtPRKAG1);
			\draw[hp] (mtMTOR) -- (mtAKT1S1);
			\draw[hp] (mtAKT1S1) -- (mtAKT2);
			\draw[hp] (mtAKT2) -- (mtTSC2);
			\draw[hp] (mtTSC2) -- (mtAKT3);
			\draw[hp] (mtAKT3) -- (mtPRKCZ);

			%% lines: Clathrin-mediated endocytosis
			\draw[hd] (clHTT) -- (clDNM1);
			\draw[hd] (clHTT) -- (clAP2A2);
			\draw[hd] (clHTT) -- (clDNM2);
			\draw[hd] (clHTT) -- (clPIK3R3);
			\draw[hd] (clHTT) -- (clPIK3R1);
			\draw[hd] (clHTT) -- (clPIK3R2);
			\draw[hd] (clHTT) -- (clUSP9X);
			\draw[hd] (clHTT) to[out=0,in=-75] (clHIP1);
			\draw[hd] (clHIP1) -- (clAP2M1);
			\draw[hd] (clPIK3R1) -- (clPIK3R2);
			\draw[hd] (clPIK3R1) -- (clAP1B1);
			\draw[hp] (clSNX9) -- (clDNM2);
			\draw[hp] (clSNX9) -- (clDNM1);
			\draw[hp] (clWASL) -- (clCTTN);
			\draw[hp] (clDNM2) -- (clCTTN);
			\draw[hp] (clDNM2) -- (clAMPH);
			\draw[hp] (clAMPH) -- (clDNM1);
			\draw[hp] (clAMPH) -- (clSH3GL2);
			\draw[hp] (clAP2A2) -- (clDNM1);
			\draw[hp] (clACTG1) -- (clSH3GL2);
			\draw[hp] (clSH3GL2) -- (clDNM1);
			\draw[hp] (clSH3GL2) -- (clSH3KBP1);
			\draw[hp] (clCTTN) -- (clDNM1);
			\draw[hp] (clCTTN) -- (clHIP1R);
			\draw[hp] (clDNM1) -- (clPIK3R1);
			\draw[hp] (clSH3KBP1) -- (clPIK3R1);
			\draw[hp] (clSH3KBP1) -- (clUBB);
			\draw[hp] (clRAC1) -- (clPIK3R1);
			\draw[hp] (clHGS) -- (clPIK3R1);
			\draw[hp] (clHGS) -- (clUBB);
			\draw[hp] (clHGS) -- (clTSG101);
			\draw[hp] (clUBB) -- (clMDM2);
			\draw[hp] (clTSG101) -- (clMDM2);
			\draw[hp] (clMDM2) -- (clARRB2);
			\draw[hp] (clAP1B1) -- (clARRB2);
			\draw[hp] (clARRB2) -- (clAP2M1);
			\draw[hp] (clAP2M1) -- (clDAB2);
			\draw[hp] (clHTT) -- (clHIP1R);
			\draw[hp] (clHTT) -- (clHIP1);
			\draw[hp] (clHIP1R) -- (clHIP1);
			\draw[hp] (clHIP1R) -- (clCLTA);
			\draw[hp] (clHIP1) -- (clCLTA);
			\draw[hp] (clAPOB) -- (clHSPA8);
			\draw[hp] (clHSPA8) -- (clCLTA);

			%% lines: NRF2-mediated Oxidative Stress response
			\draw[hd] (nrHTT) -- (nrPIK3R1);
			\draw[hd] (nrHTT) -- (nrPIK3R2);
			\draw[hd] (nrHTT) -- (nrDNAJA3);
			\draw[hd] (nrHTT) -- (nrCREBBP);
			\draw[hd] (nrHTT) -- (nrDNAJC4);
			\draw[hd] (nrHTT) -- (nrPIK3R3);
			\draw[hd] (nrHTT) -- (nrDNAJC21);
			\draw[hd] (nrHTT) -- (nrDNAJC11);
			\draw[hd] (nrPIK3R3) -- (nrDNAJA1);
			\draw[hd] (nrDNAJC21) -- (nrTXN);
			\draw[hd] (nrDNAJC11) -- (nrFTL);
			\draw[hp] (nrHTT) -- (nrUBE2K);
			\draw[hp] (nrJUND) -- (nrFOS);
			\draw[hp] (nrCREBBP) -- (nrEP300);
			\draw[hp] (nrDNAJA1) -- (nrTXN);
			\draw[hp] (nrPRKCZ) -- (nrGSK3B);
			\end{scope}
		\end{tikzpicture}
\end{document}
